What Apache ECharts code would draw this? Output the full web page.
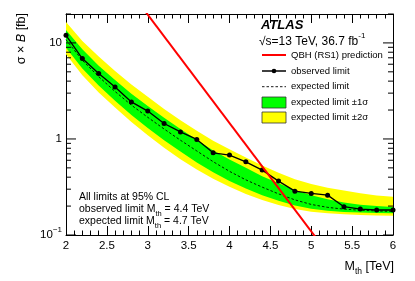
<!DOCTYPE html>
<html><head><meta charset="utf-8">
<script src="https://cdn.jsdelivr.net/npm/echarts@6/dist/echarts.min.js"></script>
<style>html,body{margin:0;padding:0;background:#fff}#c{width:415px;height:281px}</style>
</head><body><div id="c"></div>
<script>
// ---- data ----
const massPoints = [2.0,2.2,2.4,2.6,2.8,3.0,3.2,3.4,3.6,3.8,4.0,4.2,4.4,4.6,4.8,5.0,5.2,5.4,5.6,5.8,6.0];
const observed = [12.0,6.87,4.8,3.48,2.43,1.95,1.45,1.185,0.988,0.717,0.679,0.578,0.474,0.364,0.286,0.271,0.26,0.197,0.186,0.182,0.182];
const expected = [10.8,6.6,4.45,3.12,2.25,1.68,1.27,0.97,0.75,0.58,0.46,0.375,0.315,0.268,0.232,0.208,0.194,0.186,0.181,0.178,0.176];
const plus1 = [13.6,8.6,5.8,4.1,2.95,2.2,1.66,1.27,0.98,0.76,0.61,0.5,0.41,0.345,0.295,0.26,0.235,0.218,0.207,0.2,0.196];
const minus1 = [8.9,5.4,3.6,2.5,1.78,1.3,0.97,0.74,0.57,0.45,0.365,0.305,0.26,0.227,0.203,0.188,0.179,0.174,0.171,0.169,0.168];
const plus2 = [16.5,10.5,7.2,5.1,3.7,2.75,2.05,1.57,1.22,0.96,0.78,0.64,0.53,0.445,0.38,0.34,0.31,0.29,0.272,0.258,0.25];
const minus2 = [7.6,4.6,3.05,2.12,1.5,1.09,0.81,0.615,0.48,0.385,0.318,0.268,0.232,0.205,0.186,0.175,0.168,0.164,0.162,0.16,0.159];
const qbhMass = [2.95, 5.1];
const qbhXsec = [22.4, 0.084];
const yMajorTicks = [0.1, 1, 10];
const yMinorTicks = [0.2,0.3,0.4,0.5,0.6,0.7,0.8,0.9,2,3,4,5,6,7,8,9,20];
const legendLabels = ['QBH (RS1) prediction','observed limit','expected limit','expected limit ±1σ','expected limit ±2σ'];
const notes = ['All limits at 95% CL','observed limit M{sub|th} = 4.4 TeV','expected limit M{sub|th} = 4.7 TeV'];

const FONT = 'Liberation Sans, Arial, Helvetica, sans-serif';
const zip = (a,b) => a.map((v,i)=>[v,b[i]]);
const yTicks = yMajorTicks.map(v=>({v,major:true})).concat(yMinorTicks.map(v=>({v,major:false})));

const chart = echarts.init(document.getElementById('c'), null, {renderer:'canvas'});
const axisLine = {show:true, lineStyle:{color:'#000', width:1}};
const option = {
  animation:false,
  grid:{left:66, right:22, top:14, bottom:46},
  xAxis:[{
    type:'value', min:2, max:6, interval:0.5, position:'bottom',
    axisLine, splitLine:{show:false},
    axisTick:{show:true, inside:true, length:9, lineStyle:{color:'#000'}},
    minorTick:{show:true, splitNumber:5, length:4.5, lineStyle:{color:'#000'}},
    axisLabel:{color:'#000', fontFamily:FONT, fontSize:11.5, margin:5, formatter:v=>String(v)}
  },{
    type:'value', min:2, max:6, interval:0.5, position:'top',
    axisLine, splitLine:{show:false},
    axisTick:{show:true, inside:true, length:9, lineStyle:{color:'#000'}},
    minorTick:{show:true, splitNumber:5, length:4.5, lineStyle:{color:'#000'}},
    axisLabel:{show:false}
  }],
  yAxis:[{
    type:'log', logBase:10, min:0.1, max:20, position:'left',
    axisLine, splitLine:{show:false}, axisTick:{show:false},
    axisLabel:{color:'#000', fontFamily:FONT, fontSize:11.5, margin:4, lineHeight:18,
      formatter:v=>{
        const l = Math.log10(v);
        if (Math.abs(l-Math.round(l))>1e-6) return '';
        const e = Math.round(l);
        if (e===0) return '1';
        if (e===1) return '10';
        return '10{s|' + (e<0?'−':'') + Math.abs(e) + '}';
      },
      rich:{s:{fontSize:8, fontFamily:FONT, color:'#000', verticalAlign:'top', lineHeight:8}}
    }
  },{
    type:'log', logBase:10, min:0.1, max:20, position:'right',
    axisLine, splitLine:{show:false}, axisTick:{show:false}, axisLabel:{show:false}
  }],
  series:[
    { // bands
      type:'custom', xAxisIndex:0, yAxisIndex:0, z:1, silent:true,
      data:[[massPoints[0], expected[0]]],
      renderItem:(params, api)=>{
        const poly = (up, lo) => massPoints.map((m,i)=>api.coord([m, up[i]]))
          .concat(massPoints.map((m,i)=>api.coord([m, lo[i]])).reverse());
        return {type:'group', children:[
          {type:'polygon', shape:{points:poly(plus2, minus2)}, style:{fill:'#ffff00', stroke:null}},
          {type:'polygon', shape:{points:poly(plus1, minus1)}, style:{fill:'#00ff00', stroke:null}}
        ]};
      }
    },
    { // y ticks on both sides
      type:'custom', xAxisIndex:0, yAxisIndex:0, z:5, silent:true,
      data:yTicks.map(t=>[2, t.v]),
      renderItem:(params, api)=>{
        const t = yTicks[params.dataIndex];
        const L = api.coord([2, t.v]);
        const R = api.coord([6, t.v]);
        const len = t.major ? 10 : 5;
        const st = {stroke:'#000', lineWidth:1};
        return {type:'group', children:[
          {type:'line', shape:{x1:L[0], y1:L[1], x2:L[0]+len, y2:L[1]}, style:st},
          {type:'line', shape:{x1:R[0], y1:R[1], x2:R[0]-len, y2:R[1]}, style:st}
        ]};
      }
    },
    {
      name:'expected limit', type:'line', z:2, data:zip(massPoints, expected), symbol:'none',
      lineStyle:{color:'#000', width:0.9, type:[2.5,2]}
    },
    {
      name:'observed limit', type:'line', z:3, data:zip(massPoints, observed),
      symbol:'circle', symbolSize:5, itemStyle:{color:'#000'},
      lineStyle:{color:'#000', width:1.3}
    },
    {
      name:'QBH (RS1) prediction', type:'line', z:4, data:zip(qbhMass, qbhXsec), symbol:'none', clip:true,
      lineStyle:{color:'#ff0000', width:2}
    }
  ],
  graphic:[]
};

// legend & texts
const g = [];
g.push({type:'text', left:261, top:19, style:{text:'ATLAS', font:'italic bold 13px '+FONT, fill:'#000'}});
g.push({type:'text', x:259, y:41.5, style:{text:'√s=13 TeV, 36.7 fb{sup|-1}', fontFamily:FONT, fontSize:12, fill:'#000', lineHeight:20,
  verticalAlign:'middle', textAlign:'left',
  rich:{sup:{fontSize:8, fontFamily:FONT, verticalAlign:'top', lineHeight:8}}}});
const rowY = [55, 71, 86.7, 102.5, 117.5];
const sx1 = 262, sx2 = 286;
g.push({type:'line', shape:{x1:sx1,y1:rowY[0],x2:sx2,y2:rowY[0]}, style:{stroke:'#ff0000', lineWidth:2}});
g.push({type:'line', shape:{x1:sx1,y1:rowY[1],x2:sx2,y2:rowY[1]}, style:{stroke:'#000', lineWidth:1.5}});
g.push({type:'circle', shape:{cx:(sx1+sx2)/2, cy:rowY[1], r:2.3}, style:{fill:'#000'}});
g.push({type:'line', shape:{x1:sx1,y1:rowY[2],x2:sx2,y2:rowY[2]}, style:{stroke:'#000', lineWidth:0.9, lineDash:[2.5,2]}});
g.push({type:'rect', shape:{x:sx1,y:rowY[3]-5.5,width:sx2-sx1,height:11}, style:{fill:'#00ff00', stroke:'#333', lineWidth:0.8}});
g.push({type:'rect', shape:{x:sx1,y:rowY[4]-5.5,width:sx2-sx1,height:11}, style:{fill:'#ffff00', stroke:'#333', lineWidth:0.8}});
legendLabels.forEach((t,i)=>{
  g.push({type:'text', x:291, y:rowY[i], style:{text:t, fontFamily:FONT, fontSize:9.5, fill:'#000', verticalAlign:'middle', textAlign:'left'}});
});
const noteY = [197, 209.5, 221];
notes.forEach((t,i)=>{
  g.push({type:'text', x:79, y:noteY[i], style:{text:t, fontFamily:FONT, fontSize:10.5, fill:'#000', verticalAlign:'middle', textAlign:'left', lineHeight:17,
    rich:{sub:{fontSize:7.5, fontFamily:FONT, verticalAlign:'bottom', lineHeight:7}}}});
});
// axis titles
g.push({type:'text', x:394, y:267, style:{text:'M{sub|th} [TeV]', fontFamily:FONT, fontSize:12.5, fill:'#000', textAlign:'right', verticalAlign:'middle', lineHeight:19,
  rich:{sub:{fontSize:8.5, fontFamily:FONT, verticalAlign:'bottom', lineHeight:8}}}});
g.push({type:'text', x:22, y:13, rotation:Math.PI/2, style:{text:'σ × {i|B} [fb]', fontFamily:FONT, fontSize:12.5, fill:'#000', textAlign:'right', verticalAlign:'middle',
  rich:{i:{fontStyle:'italic', fontSize:12.5, fontFamily:FONT}}}});
option.graphic = g;
chart.setOption(option);
</script>
</body></html>
